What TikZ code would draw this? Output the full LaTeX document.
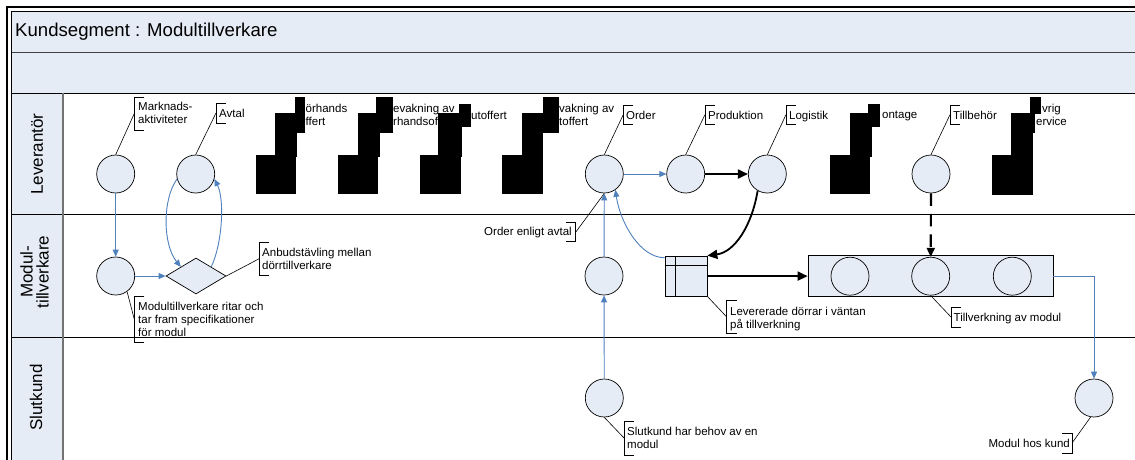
\documentclass[tikz,border=0pt]{standalone}
\usepackage{fontspec}
\setmainfont{Liberation Sans}
\usetikzlibrary{arrows.meta,shapes.geometric}
\definecolor{fillc}{RGB}{230,236,246}
\definecolor{bluec}{RGB}{79,129,189}
\tikzset{
 circ/.style={circle, draw=black, line width=0.7pt, fill=fillc, minimum size=38pt, inner sep=0pt},
 diam/.style={diamond, draw=black, line width=0.7pt, fill=fillc, minimum width=60pt, minimum height=36pt, inner sep=0pt},
 store/.style={rectangle, draw=black, line width=0.7pt, fill=fillc, minimum width=42pt, minimum height=40pt, inner sep=0pt},
 mbox/.style={rectangle, draw=black, line width=0.7pt, fill=fillc, minimum width=245pt, minimum height=41pt, inner sep=0pt},
 lbl/.style={font=\fontsize{11.5}{13}\selectfont, inner sep=0pt, align=left, anchor=north west},
 lblr/.style={font=\fontsize{11.5}{13}\selectfont, inner sep=0pt, align=right, anchor=north east},
 brk/.style={draw=black, line width=0.6pt},
 call/.style={draw=black, line width=0.6pt},
 barrow/.style={draw=bluec, line width=0.9pt, -{Triangle[length=7pt,width=6pt]}},
 karrow/.style={draw=black, line width=1.8pt, -{Triangle[length=10pt,width=9pt]}},
 darrow/.style={draw=black, line width=2.2pt, dash pattern=on 12.5pt off 8pt, -{Triangle[length=9pt,width=8pt]}},
 lanelbl/.style={font=\fontsize{17}{16}\selectfont, rotate=90, align=center, inner sep=0pt},
 blk/.style={fill=black},
}
\newcommand\brkl[4]{\draw[brk] ({#2+10},#3) -- (#2,#3) -- (#2,#4) -- ({#2+10},#4); \coordinate (#1) at (#2,{(#3+#4)/2});}
\newcommand\brkr[4]{\draw[brk] ({#2-10},#3) -- (#2,#3) -- (#2,#4) -- ({#2-10},#4); \coordinate (#1) at (#2,{(#3+#4)/2});}
\begin{document}
\begin{tikzpicture}[x=1pt,y=-1pt]
\clip (0,0) rectangle (1135,459);
\fill[white] (0,0) rectangle (1135,459);
% frame and lanes
\fill[fillc] (11,11) rectangle (1140,93.3);
\fill[fillc] (11,93.3) rectangle (63,470);
\draw[black!75, line width=0.8pt] (11,52) -- (1140,52);
\draw[black, line width=1pt] (11,93.3) -- (1140,93.3);
\draw[black, line width=1pt] (11,214.5) -- (1140,214.5);
\draw[black, line width=1pt] (11,337.5) -- (1140,337.5);
\draw[black!55, line width=1.2pt] (63,93.3) -- (63,470);
\draw[black, line width=0.8pt] (11,470) -- (11,11) -- (1140,11);
\draw[black, line width=2.2pt] (7,470) -- (7,7) -- (1140,7);
\node[font=\fontsize{18.6}{20}\selectfont, anchor=base west, inner sep=0pt] (title) at (15,36.7) {Kundsegment : Modultillverkare};
\node[lanelbl] (lnL) at (37,154) {Leverantör};
\node[lanelbl] (lnM) at (34.5,272) {Modul-\\tillverkare};
\node[lanelbl] (lnS) at (36,397.5) {Slutkund};
% Leverantor lane
\node[circ] (cM) at (115.7,174) {};
\node[circ] (cA) at (195.7,174) {};
\node[circ] (cO) at (604.3,174) {};
\node[circ] (cP) at (685.7,174) {};
\node[circ] (cL) at (767.3,174) {};
\node[circ] (cT) at (931,174) {};
\node[lbl] (tMk) at (138,102) {Marknads-\\aktiviteter};
\brkl{bMk}{134.3}{97}{130}
\draw[call] (bMk) -- (cM.north);
\node[lbl] (tAv) at (219,108.5) {Avtal};
\brkl{bAv}{216}{103}{123}
\draw[call] (bAv) -- (cA.north);
\node[lbl] (tOr) at (626,110.7) {Order};
\brkl{bOr}{623.3}{105}{124.3}
\draw[call] (bOr) -- (cO.north);
\node[lbl] (tPr) at (708,110.7) {Produktion};
\brkl{bPr}{705}{105}{124.3}
\draw[call] (bPr) -- (cP.north);
\node[lbl] (tLo) at (789,110.7) {Logistik};
\brkl{bLo}{786}{105}{124.3}
\draw[call] (bLo) -- (cL.north);
\node[lbl] (tTb) at (953,110.7) {Tillbehör};
\brkl{bTb}{950}{105}{124.3}
\draw[call] (bTb) -- (cT.north);
\node[lbl] (tF) at (305.5,103.5) {örhands\\ffert};
\node[lbl] (tBF) at (393,103.5) {evakning av\\rhandsoff};
\node[lbl] (tS) at (471,110.7) {utoffert};
\node[lbl] (tBS) at (559,103.5) {vakning av\\toffert};
\node[lbl] (tMo) at (882,110.7) {ontage};
\node[lbl] (tOv) at (1036,103.5) {\hspace{6pt}vrig\\ervice};
% Modul lane
\node[circ] (cMod) at (115.7,276) {};
\node[diam] (dA) at (196,276) {};
\node[circ] (cB) at (604,276) {};
\node[store] (sD) at (686,276) {};
\draw[black, line width=0.7pt] ([xshift=11pt]sD.north west) -- ([xshift=11pt]sD.south west);
\draw[black, line width=0.7pt] ([yshift=-10pt]sD.north west) -- ([yshift=-10pt]sD.north east);
\node[mbox] (mB) at (930.5,276.2) {};
\node[circ] (cI1) at (850,276.2) {};
\node[circ] (cI2) at (930.7,276.2) {};
\node[circ] (cI3) at (1012.3,276.2) {};
\node[lbl] (tAn) at (262,247.7) {Anbudstävling mellan\\dörrtillverkare};
\brkl{bAn}{259.3}{242.3}{275}
\draw[call] (dA.east) -- (bAn);
\node[lbl] (tMr) at (138,301.5) {Modultillverkare ritar och\\tar fram specifikationer\\för modul};
\brkl{bMr}{134.3}{296}{342.5}
\draw[call] (cMod.-54) -- (bMr);
\node[lblr] (tOe) at (572,227.3) {Order enligt avtal};
\brkr{bOe}{575.7}{222.7}{241.7}
\draw[call] (bOe) -- (cO.south);
\node[lbl] (tLd) at (730,306.5) {Levererade dörrar i väntan\\på tillverkning};
\brkl{bLd}{726.7}{300.5}{333.5}
\draw[call] (sD.south east) -- (bLd);
\node[lbl] (tTm) at (953.5,313.3) {Tillverkning av modul};
\brkl{bTm}{951}{307}{327}
\draw[call] (cI2.south) -- (bTm);
% Slutkund lane
\node[circ] (cS) at (604.3,398) {};
\node[circ] (cK) at (1094,398) {};
\node[lbl] (tSk) at (627,427.3) {Slutkund har behov av en\\modul};
\brkl{bSk}{624.3}{421}{455.5}
\draw[call] (cS.south) -- (bSk);
\node[lblr] (tMh) at (1070,439) {Modul hos kund};
\brkr{bMh}{1072}{433}{453}
\draw[call] (bMh) -- (cK.-100);
% flows
\draw[barrow] (cM) -- (cMod);
\draw[barrow] (cMod) -- (dA);
\draw[barrow] (cA.195) .. controls (162,200) and (163,245) .. (dA.north west);
\draw[barrow] (dA.north east) .. controls (222,245) and (225,200) .. (cA.-15);
\draw[barrow] (cS) -- (cB);
\draw[barrow] (cB) -- (cO);
\draw[barrow] ([yshift=-2pt]sD.north west) .. controls (640,258) and (620,222) .. (cO.-55);
\draw[barrow] (cO) -- (cP);
\draw[karrow] (cP) -- (cL);
\draw[karrow] (cL.240) .. controls (752,225) and (735,252) .. (sD.north east);
\draw[karrow] (sD) -- (mB);
\draw[darrow] (cT) -- (cI2);
\draw[barrow] (mB.east) -| (cK.north);
% black blocks
\fill[blk] (295,97) rectangle (305,133);
\fill[blk] (275,113) rectangle (297,157);
\fill[blk] (256,155) rectangle (296,194);
\fill[blk] (376,97) rectangle (393,133);
\fill[blk] (358,113) rectangle (380,157);
\fill[blk] (338,155) rectangle (378,194);
\fill[blk] (459,104) rectangle (471,127);
\fill[blk] (438,113) rectangle (462,157);
\fill[blk] (420,155) rectangle (461,194);
\fill[blk] (543,97) rectangle (559,133);
\fill[blk] (522,113) rectangle (543,157);
\fill[blk] (502,155) rectangle (543,194);
\fill[blk] (868,104) rectangle (880,127);
\fill[blk] (850,113) rectangle (872,157);
\fill[blk] (830,155) rectangle (870,194);
\fill[blk] (1030,97) rectangle (1041,114);
\fill[blk] (1011,113) rectangle (1035,133);
\fill[blk] (1011,133) rectangle (1033,157);
\fill[blk] (992,155) rectangle (1033,195);
\end{tikzpicture}
\end{document}
